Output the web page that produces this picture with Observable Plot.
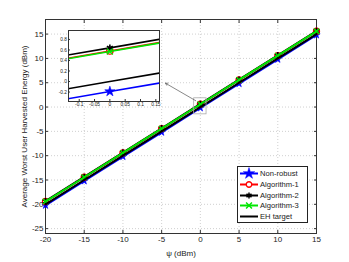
<!DOCTYPE html>
<html><head><meta charset="utf-8">
<script src="https://cdn.jsdelivr.net/npm/d3@7"></script>
<script src="https://cdn.jsdelivr.net/npm/@observablehq/plot@0.6"></script>
<style>
body{margin:0;background:white;}
#wrap{position:relative;width:349px;height:262px;font-family:"Liberation Sans",Arial,sans-serif;}
#wrap svg{position:absolute;overflow:visible;}
#legend{position:absolute;left:237px;top:166px;width:69px;height:55px;border:1px solid #222;background:white;font-size:7.6px;color:#222;}
.row{position:absolute;left:0;height:11px;width:69px;}
.row svg{position:absolute;left:1px;top:0;}
.row span{position:absolute;left:22px;top:1px;white-space:nowrap;}
</style></head>
<body><div id="wrap"></div>
<script>
const psi = [-20, -15, -10, -5, 0, 5, 10, 15];
const nonRobust = [-20.21, -15.2, -10.19, -5.19, -0.19, 4.81, 9.81, 14.81];
const algorithm1 = [-19.42, -14.42, -9.42, -4.42, 0.58, 5.58, 10.58, 15.58];
const algorithm2 = [-19.36, -14.36, -9.36, -4.36, 0.64, 5.64, 10.64, 15.64];
const algorithm3 = [-19.43, -14.43, -9.43, -4.43, 0.57, 5.57, 10.57, 15.57];
const ehTarget = [-20, -15, -10, -5, 0, 5, 10, 15];
const xTicks = [-20, -15, -10, -5, 0, 5, 10, 15];
const yTicks = [-25, -20, -15, -10, -5, 0, 5, 10, 15];
const insetXTicks = [-0.1, -0.05, 0, 0.05, 0.1, 0.15];
const insetYTicks = [-0.2, 0, 0.2, 0.4, 0.6, 0.8];
const zoomBox = [{x1: -0.8, x2: 0.8, y1: -1.5, y2: 1.8}];
const pointer = [{x1: -0.6, y1: 1.3, x2: -4.5, y2: 4.9}];

const blue = "#0000ff", red = "#ff0000", black = "#000000", green = "#00e600";
const series = [
  {name: "Non-robust", values: nonRobust, color: blue, symbol: "star"},
  {name: "Algorithm-1", values: algorithm1, color: red, symbol: "circle"},
  {name: "Algorithm-2", values: algorithm2, color: black, symbol: "asterisk"},
  {name: "Algorithm-3", values: algorithm3, color: green, symbol: "times"},
  {name: "EH target", values: ehTarget, color: black, symbol: null}
];
const rows = series.flatMap(s => psi.map((x, i) => ({x, y: s.values[i], name: s.name})));

function seriesMarks(lw, sizes, clip) {
  const m = [];
  for (const s of series) {
    const d = rows.filter(r => r.name === s.name);
    m.push(Plot.line(d, {x: "x", y: "y", stroke: s.color, strokeWidth: lw, clip}));
    if (s.symbol === "star") m.push(Plot.dot(d, {x: "x", y: "y", symbol: "star", r: sizes.star, fill: s.color, stroke: s.color, strokeWidth: 0.6, clip}));
    if (s.symbol === "circle") m.push(Plot.dot(d, {x: "x", y: "y", symbol: "circle", r: sizes.circle, fill: "none", stroke: s.color, strokeWidth: 1.3, clip}));
    if (s.symbol === "asterisk") m.push(Plot.dot(d, {x: "x", y: "y", symbol: "asterisk", r: sizes.ast, stroke: s.color, strokeWidth: 1.6, clip}));
    if (s.symbol === "times") m.push(Plot.dot(d, {x: "x", y: "y", symbol: "times", r: sizes.times, stroke: s.color, strokeWidth: 1.3, clip}));
  }
  return m;
}
const fmt = d => String(d);

const main = Plot.plot({
  width: 349, height: 262,
  marginLeft: 45, marginRight: 33, marginTop: 19, marginBottom: 29,
  style: {fontSize: "8px", fontFamily: "Liberation Sans, Arial, sans-serif", background: "transparent", color: "#222"},
  x: {domain: [-20, 15]},
  y: {domain: [-26, 18]},
  marks: [
    Plot.gridX(xTicks, {stroke: "#b0b0b0", strokeOpacity: 1, strokeDasharray: "1,2", strokeWidth: 0.6}),
    Plot.gridY(yTicks, {stroke: "#b0b0b0", strokeOpacity: 1, strokeDasharray: "1,2", strokeWidth: 0.6}),
    Plot.axisX(xTicks, {anchor: "bottom", tickSize: -3, tickPadding: 6, tickFormat: fmt, label: "ψ (dBm)", labelAnchor: "center", labelOffset: 22, labelArrow: "none", stroke: "#333"}),
    Plot.axisX(xTicks, {anchor: "top", tickSize: -3, tickFormat: () => "", label: null, stroke: "#333"}),
    Plot.axisY(yTicks, {anchor: "left", tickSize: -3, tickPadding: 5, tickFormat: fmt, label: "Average Worst User Harvested Energy (dBm)", labelAnchor: "center", labelOffset: 24, labelArrow: "none", stroke: "#333"}),
    Plot.axisY(yTicks, {anchor: "right", tickSize: -3, tickFormat: () => "", label: null, stroke: "#333"}),
    Plot.frame({stroke: "#333"}),
    ...seriesMarks(2, {star: 2.3, circle: 3, ast: 3, times: 2.6}, false),
    Plot.rect(zoomBox, {x1: "x1", x2: "x2", y1: "y1", y2: "y2", fill: "none", stroke: "#aaa", strokeWidth: 0.8}),
    Plot.arrow(pointer, {x1: "x1", y1: "y1", x2: "x2", y2: "y2", stroke: "#555", strokeWidth: 0.7, headLength: 5})
  ]
});
main.style.left = "0px"; main.style.top = "0px";

const inset = Plot.plot({
  width: 111, height: 83,
  marginLeft: 14, marginRight: 6, marginTop: 2, marginBottom: 10,
  style: {fontSize: "4.8px", fontFamily: "Liberation Sans, Arial, sans-serif", background: "transparent", color: "#222"},
  x: {domain: [-0.135, 0.162]},
  y: {domain: [-0.38, 0.97]},
  marks: [
    Plot.frame({fill: "white", stroke: "none"}),
    Plot.axisX(insetXTicks, {anchor: "bottom", tickSize: -2, tickPadding: 3.5, tickFormat: fmt, label: null, stroke: "#333"}),
    Plot.axisY(insetYTicks, {anchor: "left", tickSize: -2, tickPadding: 3.5, tickFormat: fmt, label: null, stroke: "#333"}),
    ...seriesMarks(1.6, {star: 3.2, circle: 3.2, ast: 3.2, times: 2.8}, true),
    Plot.frame({stroke: "#333"})
  ]
});
inset.style.left = "54px"; inset.style.top = "28px";

const wrap = document.getElementById("wrap");
wrap.appendChild(main);
wrap.appendChild(inset);

// legend
const legend = document.createElement("div");
legend.id = "legend";
series.forEach((s, i) => {
  const row = document.createElement("div");
  row.className = "row";
  row.style.top = (1 + i * 10.8) + "px";
  const svg = d3.create("svg").attr("width", 20).attr("height", 11);
  svg.append("line").attr("x1", 1).attr("x2", 19).attr("y1", 5.5).attr("y2", 5.5).attr("stroke", s.color).attr("stroke-width", 2);
  if (s.symbol) {
    const sym = {star: d3.symbolStar, circle: d3.symbolCircle, asterisk: d3.symbolAsterisk, times: d3.symbolTimes}[s.symbol];
    const size = s.symbol === "star" ? 40 : 24;
    const p = svg.append("path").attr("d", d3.symbol(sym, size)()).attr("transform", "translate(10,5.5)");
    if (s.symbol === "star") p.attr("fill", s.color).attr("stroke", s.color).attr("stroke-width", 0.5);
    else if (s.symbol === "circle") p.attr("fill", "white").attr("stroke", s.color).attr("stroke-width", 1.3);
    else p.attr("fill", "none").attr("stroke", s.color).attr("stroke-width", 1.5);
  }
  row.appendChild(svg.node());
  const t = document.createElement("span");
  t.textContent = s.name;
  row.appendChild(t);
  legend.appendChild(row);
});
wrap.appendChild(legend);
</script></body></html>
